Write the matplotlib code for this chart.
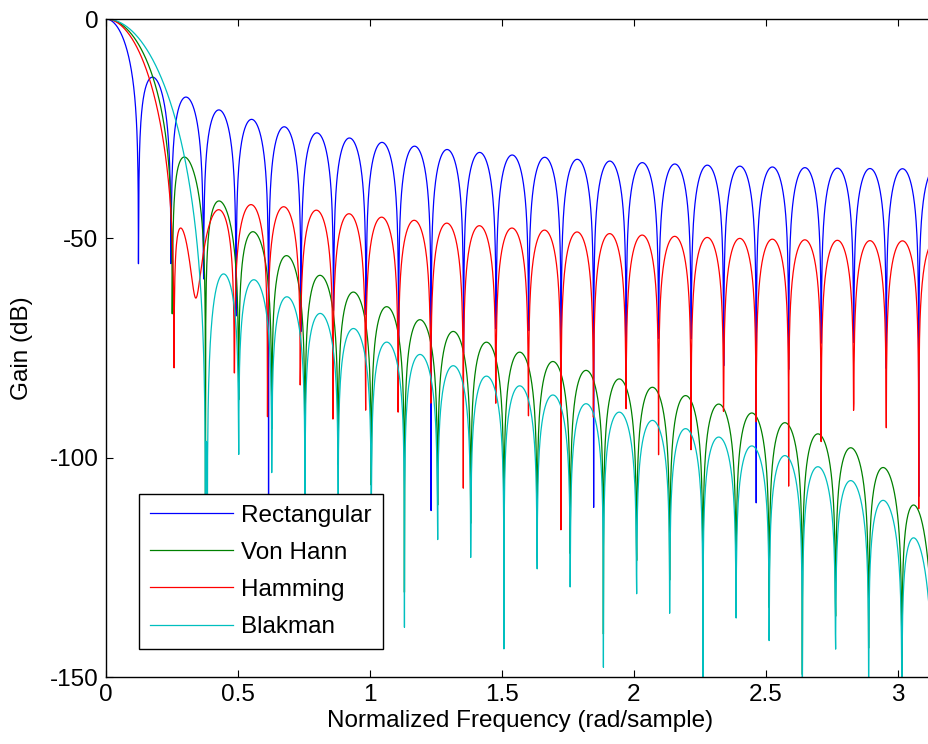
import numpy as np
import matplotlib
matplotlib.use("Agg")
import matplotlib.pyplot as plt

# longitud de ventana y paso de la rejilla de frecuencia (rad/muestra)
N = 51
paso = 0.001
nombres = ["Rectangular", "Von Hann", "Hamming", "Blakman"]
colores = ["#0000ff", "#008000", "#ff0000", "#00bfbf"]

ventanas = [np.ones(N), np.hanning(N), np.hamming(N), np.blackman(N)]

plt.rcParams['font.family'] = ['Liberation Sans', 'DejaVu Sans']
plt.rcParams['axes.unicode_minus'] = False
tam = 17.5

fig = plt.figure(figsize=(9.29, 7.44), dpi=100)
ax = fig.add_axes([106 / 929, 67 / 744, (935 - 106) / 929, 658 / 744])

# respuesta en frecuencia como freqz(b, 1, w)
w = np.arange(0, np.pi, paso)
n = np.arange(N)
E = np.exp(-1j * np.outer(w, n))
for nombre, color, ventana in zip(nombres, colores, ventanas):
    H = E @ ventana
    mag = np.abs(H) / np.abs(H[0])
    gain = 20 * np.log10(np.maximum(mag, 1e-15))
    ax.plot(w, gain, color=color, lw=0.9, label=nombre)

ax.set_xlim(0, np.pi)
ax.set_ylim(-150, 0)
ax.set_xticks([0, 0.5, 1, 1.5, 2, 2.5, 3])
ax.set_xticklabels(["0", "0.5", "1", "1.5", "2", "2.5", "3"])
ax.set_yticks([-150, -100, -50, 0])
ax.tick_params(direction='in', top=True, right=True, length=5, labelsize=tam)
ax.tick_params(axis='x', pad=5)
ax.tick_params(axis='y', pad=5.5)
for s in ax.spines.values():
    s.set_linewidth(1.0)

ax.set_xlabel("Normalized Frequency (rad/sample)", fontsize=tam, labelpad=3)
ax.set_ylabel("Gain (dB)", fontsize=tam, labelpad=12)

leg = ax.legend(loc='lower left', bbox_to_anchor=(139 / 929, 95 / 744),
                bbox_transform=fig.transFigure, fontsize=tam, fancybox=False,
                framealpha=1, edgecolor='black', borderaxespad=0,
                handlelength=3.4, handletextpad=0.35, labelspacing=0.62,
                borderpad=0.45)
leg.get_frame().set_linewidth(1.0)

fig.savefig("out.png", dpi=100)
